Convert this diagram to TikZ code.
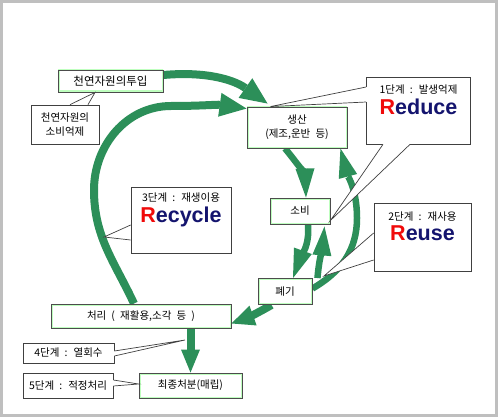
\documentclass[tikz,border=0pt]{standalone}
\usepackage{fontspec}
\setmainfont{Noto Sans CJK KR}[WordSpace=2.2]
\newfontfamily\latinsf{Liberation Sans}
\usetikzlibrary{positioning, arrows.meta, backgrounds}
\definecolor{flowgreen}{RGB}{44,143,89}
\definecolor{wordnavy}{RGB}{20,20,110}
\definecolor{wordred}{RGB}{240,10,10}
\newcommand{\stepword}[2]{{\latinsf\bfseries\fontsize{21.5}{24}\selectfont\textcolor{wordred}{#1}\textcolor{wordnavy}{#2}}}
\newcommand{\calltail}[3]{%
  \fill[white] #1 -- #2 -- #3 -- cycle;
  \draw[white, line width=1.4pt] #1 -- #3;
  \draw[tailline] #1 -- #2 -- #3;}

\begin{document}
\begin{tikzpicture}[
        x=1pt, y=-1pt,
        font=\fontsize{10.5}{14}\selectfont,
        box/.style={draw=black!70, line width=0.9pt, fill=white, inner sep=1pt, align=center,
            path picture={\draw[green!25, line width=3pt] (path picture bounding box.south west) rectangle (path picture bounding box.north east);}},
        callbox/.style={draw=black!75, line width=0.7pt, fill=white, inner sep=1pt, align=center},
        tailline/.style={draw=black!75, line width=0.7pt},
        flow/.style={draw=flowgreen, line width=8pt, -{Triangle[length=27pt, width=24pt, line width=0pt]}},
        flowthin/.style={draw=flowgreen, line width=6.5pt, -{Triangle[length=29pt, width=19pt, line width=0pt]}},
    ]
        \useasboundingbox (0,0) rectangle (500,417);
        \draw[black!25, line width=3pt] (1.5,2) rectangle (496,415.5);

        % Cycle boxes
        \node[box, minimum width=105pt, minimum height=22pt, font=\fontsize{11.5}{14}\selectfont] (tuip) at (110.5,81) {천연자원의투입};
        \node[box, minimum width=100pt, minimum height=41pt] (saeng) at (297,127.5) {생산\\(제조,운반 등)};
        \node[box, minimum width=60pt, minimum height=26pt] (sobi) at (300,211) {소비};
        \node[box, minimum width=54pt, minimum height=26pt] (pye) at (285,291.5) {폐기};
        \node[box, minimum width=180pt, minimum height=24pt] (cheori) at (141,316) {처리 ( 재활용,소각 등 )};
        \node[box, minimum width=103pt, minimum height=25pt] (choe) at (190.5,385.5) {최종처분(매립)};

        % Bend points of the arcs
        \coordinate (bendL) at (94,190);
        \coordinate (bendT) at (171,106);
        \coordinate (bendR) at (357,218);

        \begin{scope}[on background layer]
            \draw[flow] ([yshift=6pt]tuip.east) to[out=5, in=145] ([xshift=21pt, yshift=3pt]saeng.north west);
            \draw[flow] ([xshift=-7pt]cheori.north) to[out=115, in=-90] (bendL) to[out=90, in=180] (bendT) to[out=0, in=172] ([yshift=-2pt]saeng.north west);
            \draw[flowthin] ([xshift=-12pt]saeng.south) to[out=-50, in=92] ([xshift=6pt]sobi.north);
            \draw[flowthin] ([xshift=8pt]sobi.south) to[out=-85, in=70] ([xshift=8pt]pye.north);
            \draw[flowthin] ([xshift=5pt]pye.north east) to[out=85, in=-95] ([xshift=-6pt, yshift=-2pt]sobi.south east);
            \draw[flowthin] ([yshift=3pt]pye.east) to[out=30, in=-90] (bendR) to[out=90, in=-75] ([xshift=-7pt]saeng.south east);
            \draw[flow, -{Triangle[length=23pt, width=21pt, line width=0pt]}] ([xshift=14pt]pye.south west) to[out=-150, in=20] ([yshift=5pt]cheori.south east);
            \draw[flow, -{Triangle[length=23pt, width=19pt, line width=0pt]}] (choe.north |- cheori.south) -- (choe.north);
        \end{scope}

        % Callouts
        \node[callbox, minimum width=68pt, minimum height=39pt] (eokje) at (65,124.5) {천연자원의\\소비억제};
        \node[callbox, minimum width=104pt, minimum height=67pt] (redu) at (418.5,110.5) {};
        \node[below=5pt of redu.north, align=center] (redutxt) {1단계 : 발생억제\\[3pt]\stepword{R}{educe}};
        \node[callbox, minimum width=100pt, minimum height=66pt] (recy) at (181,220) {};
        \node[below=3pt of recy.north, align=center] (recytxt) {3단계 : 재생이용\\[3pt]\stepword{R}{ecycle}};
        \node[callbox, minimum width=97pt, minimum height=68pt] (reuse) at (422.5,237) {};
        \node[below=6pt of reuse.north, align=center] (reusetxt) {2단계 : 재사용\\[3pt]\stepword{R}{euse}};
        \node[callbox, minimum width=91pt, minimum height=20pt] (yeol) at (68.5,353) {4단계 : 열회수};
        \node[callbox, minimum width=90pt, minimum height=25pt] (jeok) at (68,385.5) {5단계 : 적정처리};

        % Callout tails
        \coordinate (recytip) at (104,237);
        \coordinate (reusetip) at (324,276);
        \coordinate (yeoltip) at (185,340);
        \calltail{([xshift=5pt]eokje.north)}{([xshift=-15.5pt]tuip.south)}{([xshift=23pt]eokje.north)}
        \calltail{([yshift=23.5pt]redu.west)}{([xshift=24pt]saeng.north west)}{([yshift=8.5pt]redu.west)}
        \calltail{([xshift=-35.5pt]redu.south)}{([yshift=4pt]sobi.south east)}{([xshift=-8.5pt]redu.south)}
        \calltail{([yshift=-5pt]recy.west)}{(recytip)}{([yshift=-20pt]recy.west)}
        \calltail{([yshift=4pt]reuse.west)}{(reusetip)}{([yshift=-23pt]reuse.west)}
        \calltail{([yshift=2pt]yeol.east)}{(yeoltip)}{([yshift=-3pt]yeol.east)}
        \calltail{([yshift=5.5pt]jeok.east)}{([yshift=1.5pt]choe.west)}{([yshift=-0.5pt]jeok.east)}
    \end{tikzpicture}
\end{document}
